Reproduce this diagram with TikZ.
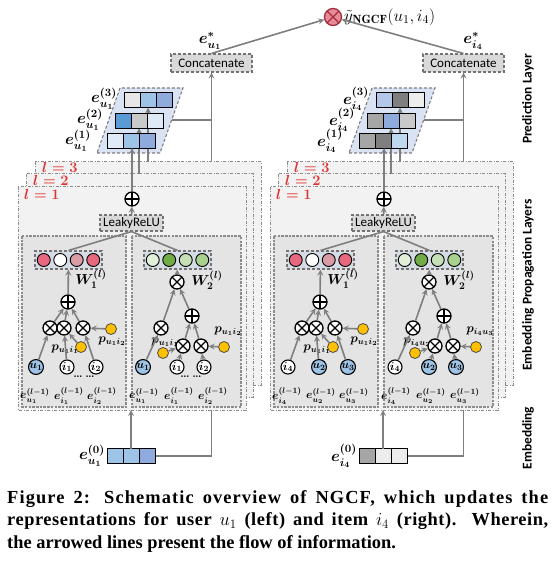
\documentclass[tikz,border=0pt]{standalone}
\usepackage{fix-cm}
\usepackage{amsmath}
\usepackage{xcolor}
\usepackage{fontspec}
\setsansfont{Carlito}
\newfontfamily\capfont{Liberation Serif}
\usetikzlibrary{positioning, calc}

\definecolor{flowgray}{HTML}{7F7F7F}
\definecolor{layerfill}{HTML}{F2F2F2}
\definecolor{innerfill}{HTML}{E4E4E4}
\definecolor{boxfill}{HTML}{D9D9D9}
\definecolor{wfill}{HTML}{D6DCE5}
\definecolor{stackfill}{HTML}{DAE3F3}
\definecolor{ublue}{HTML}{9DC3E6}
\definecolor{pyellow}{HTML}{FFC000}
\definecolor{lred}{HTML}{E03030}
\definecolor{toppink}{HTML}{E98A98}
\definecolor{topred}{HTML}{A0303C}
% embedding cell colours
\definecolor{vlb}{HTML}{DEEBF7}
\definecolor{lb}{HTML}{9DC3E6}
\definecolor{mb}{HTML}{8FAADC}
\definecolor{db}{HTML}{5B9BD5}
\definecolor{pb}{HTML}{B4C7E7}
\definecolor{ib}{HTML}{BDD7EE}
\definecolor{lg}{HTML}{E6E6E6}
\definecolor{mg}{HTML}{C9C9C9}
\definecolor{gg}{HTML}{A6A6A6}
\definecolor{dg}{HTML}{7F7F7F}
\definecolor{wg}{HTML}{EDEDED}
% weight circle colours
\definecolor{pk1}{HTML}{E8687F}
\definecolor{pk2}{HTML}{D99BA4}
\definecolor{gr1}{HTML}{E2F0D9}
\definecolor{gr2}{HTML}{70AD47}
\definecolor{gr3}{HTML}{C5E0B4}
\definecolor{gr4}{HTML}{A9D18E}

\pgfdeclarelayer{wires}
\pgfdeclarelayer{boxes}
\pgfsetlayers{wires,boxes,main}

\tikzset{
    flow/.style={->, >=stealth, draw=flowgray, line width=1.6pt},
    wire/.style={draw=flowgray, line width=1.6pt},
    layerbox/.style={draw=black!45, dash pattern=on 3pt off 1.5pt on 1pt off 1.5pt, fill=layerfill, line width=1pt},
    innerbox/.style={draw=black!45, dash pattern=on 2.5pt off 1.2pt, fill=innerfill, line width=1.5pt},
    stackbox/.style={draw=flowgray, densely dashed, fill=stackfill, line width=1.1pt},
    opbox/.style={draw=black!55, densely dashed, fill=boxfill, line width=1.1pt, inner sep=0pt, font=\sffamily\fontsize{13}{14}\selectfont},
    wbox/.style={draw=black!55, densely dashed, fill=wfill, line width=1.1pt, minimum width=67pt, minimum height=18pt},
    wdot/.style={circle, draw=black, line width=0.9pt, minimum size=13pt, inner sep=0pt},
    op/.style={circle, draw=black, fill=white, line width=1.3pt, minimum size=14pt, inner sep=0pt},
    oplus/.style={op, path picture={\draw[line width=1.1pt] (path picture bounding box.north) -- (path picture bounding box.south) (path picture bounding box.west) -- (path picture bounding box.east);}},
    otimes/.style={op, path picture={\draw[line width=1.1pt] (path picture bounding box.north west) -- (path picture bounding box.south east) (path picture bounding box.north east) -- (path picture bounding box.south west);}},
    ent/.style={circle, draw=black, line width=1.1pt, minimum size=14pt, inner sep=0pt, font=\fontsize{11.5}{12}\selectfont},
    pw/.style={circle, draw=black!70, fill=pyellow, line width=0.8pt, minimum size=11pt, inner sep=0pt},
    cell/.style={draw=black, line width=0.9pt, minimum width=16pt, minimum height=15pt, inner sep=0pt, outer sep=0pt},
    elab/.style={font=\fontsize{11.5}{12}\selectfont, inner sep=0pt},
    plab/.style={font=\fontsize{12.5}{13}\selectfont, inner sep=0pt},
    wlab/.style={font=\fontsize{14.5}{15}\selectfont, inner sep=0pt},
    stacklab/.style={font=\fontsize{16}{17}\selectfont, inner sep=0pt},
    lyr/.style={text=lred, font=\fontsize{14.5}{15}\selectfont, inner sep=0pt, anchor=north west},
    sidelab/.style={rotate=90, font=\sffamily\bfseries\fontsize{13.4}{14}\selectfont},
    caption/.style={anchor=base west, inner sep=0pt, font=\capfont\bfseries\fontsize{18.4}{22}\selectfont}
}

% three-cell embedding vector, named after its middle cell
\newcommand\embvec[5]{%
    \node[cell, fill=#4] (#1) at (#2) {};
    \node[cell, fill=#3, left=0pt of #1] (#1-a) {};
    \node[cell, fill=#5, right=0pt of #1] (#1-c) {};}

\begin{document}
\begin{tikzpicture}[x=1pt, y=-1pt]
    \useasboundingbox (0,0) rectangle (552,561);

    % Embedding vectors
    \embvec{L-e3}{148,100}{lg}{lb}{mb}
    \embvec{L-e2}{139,120.5}{db}{mg}{vlb}
    \embvec{L-e1}{131,140.5}{vlb}{lb}{mb}
    \embvec{L-e0}{131,456}{lb}{lb}{mb}
    \embvec{R-e3}{400,100}{pb}{dg}{wg}
    \embvec{R-e2}{391,120.5}{gg}{mb}{mg}
    \embvec{R-e1}{383,140.5}{gg}{dg}{ib}
    \embvec{R-e0}{383,456}{gg}{wg}{wg}

    % The two panels: user u1 (left) and item i4 (right)
    \foreach \pre/\dx/\tg/\tgc/\na/\nb/\nc/\pa/\pb/\pc/\pd/\dt in {
        L/0/u_1/ublue/i_1/i_2/white/p_{u_1i_1}/p_{u_1i_2}/p_{u_1i_1}/p_{u_1i_2}/\ldots,
        R/252/i_4/white/u_2/u_3/ublue/p_{u_1i_1}/p_{u_1i_2}/p_{i_4u_2}/p_{i_4u_3}/\relax}{
    \begin{scope}[shift={(\dx,0)}]
        % Layer boxes
        \begin{pgfonlayer}{boxes}
            \draw[layerbox] (35,162) rectangle (261,385);
            \draw[layerbox] (26,174) rectangle (253,397);
            \draw[layerbox] (18,187) rectangle (246,410);
            \draw[innerbox] (22,236) rectangle (126,407);
            \draw[innerbox] (132,236) rectangle (241,407);
            \draw[stackbox] (97,153) -- (160,153) -- (183,88) -- (120,88) -- cycle;
            \coordinate (\pre-br) at (172,120);
            \coordinate (\pre-l1b) at (131,410);
            \coordinate (\pre-l2t) at (139,174);
            \coordinate (\pre-l3t) at (148,162);
            \draw[flow] (\pre-l2t) -- (\pre-e2.south);
            \draw[flow] (\pre-l3t) -- (\pre-e3.south);
        \end{pgfonlayer}

        \node[lyr] (\pre-lab3) at (42,162.5) {$\boldsymbol{l=3}$};
        \node[lyr] (\pre-lab2) at (33,175) {$\boldsymbol{l=2}$};
        \node[lyr] (\pre-lab1) at (24,189) {$\boldsymbol{l=1}$};

        % Stacked layer outputs
        \node[stacklab] (\pre-s3lab) at (104,99) {$\boldsymbol{e^{(3)}_{\tg}}$};
        \node[stacklab] (\pre-s2lab) at (90,120) {$\boldsymbol{e^{(2)}_{\tg}}$};
        \node[stacklab] (\pre-s1lab) at (78,141) {$\boldsymbol{e^{(1)}_{\tg}}$};
        \node[stacklab] (\pre-s0lab) at (92,456) {$\boldsymbol{e^{(0)}_{\tg}}$};

        % Concatenate, LeakyReLU, sum
        \node[opbox, minimum width=81pt, minimum height=18pt] (\pre-concat) at (211.5,63) {Concatenate};
        \node[opbox, minimum width=63pt, minimum height=16pt] (\pre-relu) at (131.5,223) {LeakyReLU};
        \node[oplus] (\pre-sum) at (132,199) {};

        % Weight vectors
        \node[wbox] (\pre-W1) at (68.5,260) {};
        \node[wbox] (\pre-W2) at (177.5,260) {};
        \foreach \k/\wc in {1/pk1, 2/white, 3/pk2, 4/pk1}
            \node[wdot, fill=\wc] (\pre-wa\k) at ($(\pre-W1)+(\k*16.5-41.25,0)$) {};
        \foreach \k/\wc in {1/gr1, 2/gr2, 3/gr3, 4/gr4}
            \node[wdot, fill=\wc] (\pre-wb\k) at ($(\pre-W2)+(\k*16.5-41.25,0)$) {};
        \node[wlab] (\pre-W1lab) at (91,279) {$\boldsymbol{W_1^{(l)}}$};
        \node[wlab] (\pre-W2lab) at (207,280) {$\boldsymbol{W_2^{(l)}}$};

        % W1 branch
        \node[oplus] (\pre-s1) at (68,302) {};
        \node[otimes] (\pre-m0) at (50,328) {};
        \node[otimes] (\pre-m1) at (64,328) {};
        \node[otimes] (\pre-m2) at (83,328) {};
        \node[ent, fill=\tgc] (\pre-t) at (36,367) {$\boldsymbol{\tg}$};
        \node[ent, fill=\nc] (\pre-a) at (67,367) {$\boldsymbol{\na}$};
        \node[ent, fill=\nc] (\pre-b) at (96,367) {$\boldsymbol{\nb}$};
        \node[plab] (\pre-palab) at (65,349) {$\boldsymbol{\pa}$};
        \node[plab] (\pre-pblab) at (112,341) {$\boldsymbol{\pb}$};
        \node[pw] (\pre-pa) at (81,347) {};
        \node[pw] (\pre-pb) at (111,329) {};
        \node[elab] (\pre-d1) at (78,377) {\bfseries\dt};
        \node[elab] (\pre-d2) at (90,377) {\bfseries\dt};
        \node[elab] (\pre-et) at (35,396) {$\boldsymbol{e^{(l-1)}_{\tg}}$};
        \node[elab] (\pre-ea) at (69,396) {$\boldsymbol{e^{(l-1)}_{\na}}$};
        \node[elab] (\pre-eb) at (102,396) {$\boldsymbol{e^{(l-1)}_{\nb}}$};

        \draw[flow] (\pre-t) -- (\pre-m0);
        \draw[flow] (\pre-a) -- (\pre-m1);
        \draw[flow] (\pre-pa) -- (\pre-m1);
        \draw[flow] (\pre-b) -- (\pre-m2);
        \draw[flow] (\pre-pb) -- (\pre-m2);
        \foreach \m in {m0, m1, m2}
            \draw[flow] (\pre-\m) -- (\pre-s1);
        \draw[flow] (\pre-s1) -- (\pre-W1);

        % W2 branch
        \node[plab] (\pre-pclab) at (165,342) {$\boldsymbol{\pc}$};
        \node[plab] (\pre-pdlab) at (228,331) {$\boldsymbol{\pd}$};
        \node[otimes] (\pre-x) at (177,282) {};
        \node[oplus] (\pre-s2) at (192,316) {};
        \node[otimes] (\pre-ma) at (161,328) {};
        \node[otimes] (\pre-mb) at (183,346) {};
        \node[otimes] (\pre-mc) at (201,346) {};
        \node[ent, fill=\tgc] (\pre-t2) at (143,367) {$\boldsymbol{\tg}$};
        \node[ent, fill=\nc] (\pre-a2) at (177,367) {$\boldsymbol{\na}$};
        \node[ent, fill=\nc] (\pre-b2) at (204,367) {$\boldsymbol{\nb}$};
        \node[pw] (\pre-pc) at (163,353) {};
        \node[pw] (\pre-pd) at (224,347) {};
        \node[elab] (\pre-d3) at (185,377) {\bfseries\dt};
        \node[elab] (\pre-d4) at (197,377) {\bfseries\dt};
        \node[elab] (\pre-et2) at (144,396) {$\boldsymbol{e^{(l-1)}_{\tg}}$};
        \node[elab] (\pre-ea2) at (179,396) {$\boldsymbol{e^{(l-1)}_{\na}}$};
        \node[elab] (\pre-eb2) at (213,396) {$\boldsymbol{e^{(l-1)}_{\nb}}$};

        \draw[flow] (\pre-t2) -- (\pre-ma);
        \draw[flow] (\pre-ma) -- (\pre-x);
        \draw[flow] (\pre-a2) -- (\pre-mb);
        \draw[flow] (\pre-pc) -- (\pre-mb);
        \draw[flow] (\pre-b2) -- (\pre-mc);
        \draw[flow] (\pre-pd) -- (\pre-mc);
        \draw[flow] (\pre-mb) -- (\pre-s2);
        \draw[flow] (\pre-mc) -- (\pre-s2);
        \draw[flow] (\pre-s2) -- (\pre-x);
        \draw[flow] (\pre-x) -- (\pre-W2);

        % Up to the layer output
        \draw[wire] (\pre-W1.north) -- (\pre-relu.south);
        \draw[wire] (\pre-W2.north) -- (\pre-relu.south);
        \draw[flow] (\pre-relu) -- (\pre-sum);
        \draw[flow] (\pre-sum) -- (\pre-sum |- \pre-e1.south);
        \draw[flow] (\pre-e0.north) -- (\pre-e0 |- \pre-l1b);

        % Wires behind the layer boxes
        \begin{pgfonlayer}{wires}
            \draw[flow] (\pre-e0-c.east) -| (\pre-concat.south);
            \draw[wire] (\pre-br) -- (\pre-br -| \pre-concat.south);
        \end{pgfonlayer}
    \end{scope}}

    % Prediction
    \node[otimes, fill=toppink, draw=topred, minimum size=17pt] (y) at (333,17) {};
    \node[anchor=west, inner sep=0pt, font=\fontsize{17}{18}\selectfont] (ylab) at (344,17) {$\tilde{y}_{\mathbf{NGCF}}(u_1,i_4)$};
    \draw[flow] (L-concat.north) -- (y);
    \draw[flow] (R-concat.north) -- (y);
    \node[stacklab] (L-star) at (210,41) {$\boldsymbol{e^*_{u_1}}$};
    \node[stacklab] (R-star) at (473,41) {$\boldsymbol{e^*_{i_4}}$};

    % Side labels
    \node[sidelab] (predlab) at (528,99) {Prediction Layer};
    \node[sidelab] (proplab) at (528,285) {Embedding Propagation Layers};
    \node[sidelab] (emblab) at (528,438) {Embedding};

    % Caption
    \node[caption] (cap1) at (7,503) {\addfontfeatures{LetterSpace=6}\makebox[541pt][s]{Figure 2: Schematic overview of NGCF, which updates the}};
    \node[caption] (cap2) at (7,525.5) {\addfontfeatures{LetterSpace=3}\makebox[541pt][s]{representations for user $u_1$ (left) and item $i_4$ (right). Wherein,}};
    \node[caption] (cap3) at (7,548) {the arrowed lines present the flow of information.};
\end{tikzpicture}
\end{document}
